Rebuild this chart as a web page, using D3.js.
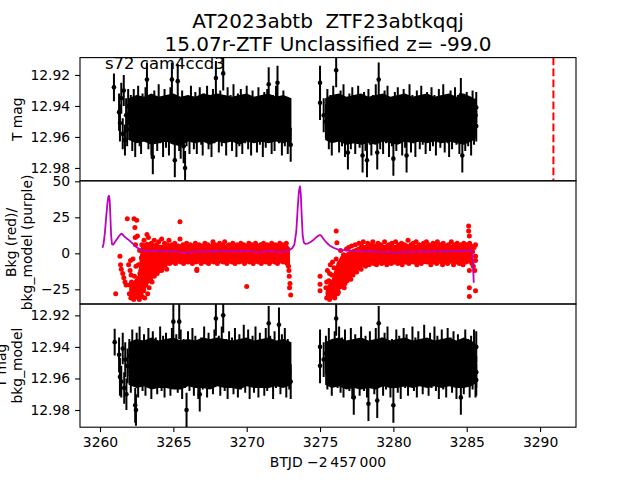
<!DOCTYPE html>
<html>
<head>
<meta charset="utf-8">
<script src="https://cdn.jsdelivr.net/npm/d3@7"></script>
<style>
  body { margin: 0; background: #fff; }
  text { font-family: "DejaVu Sans", sans-serif; }
</style>
</head>
<body>
<svg id="chart" width="640" height="480"></svg>
<script>
// ---- data ----
var titleLines = ["AT2023abtb  ZTF23abtkqqj", "15.07r-ZTF Unclassified z= -99.0"];
var sectorText = "s72 cam4ccd3";
var xTicks = [3260, 3265, 3270, 3275, 3280, 3285, 3290];
var magTicks = [12.92, 12.94, 12.96, 12.98];
var bkgTicks = [-25, 0, 25, 50];
var markerTime = 3290.91;
var magErr = 0.011;

// 0.1 d sampled photometry, orbit 1 and orbit 2
var tA = [
3262.0,3262.1,3262.2,3262.3,3262.4,3262.5,3262.6,3262.7,3262.8,3262.9,
3263.0,3263.1,3263.2,3263.3,3263.4,3263.5,3263.6,3263.7,3263.8,3263.9,
3264.0,3264.1,3264.2,3264.3,3264.4,3264.5,3264.6,3264.7,3264.8,3264.9,
3265.0,3265.1,3265.2,3265.3,3265.4,3265.5,3265.6,3265.7,3265.8,3265.9,
3266.0,3266.1,3266.2,3266.3,3266.4,3266.5,3266.6,3266.7,3266.8,3266.9,
3267.0,3267.1,3267.2,3267.3,3267.4,3267.5,3267.6,3267.7,3267.8,3267.9,
3268.0,3268.1,3268.2,3268.3,3268.4,3268.5,3268.6,3268.7,3268.8,3268.9,
3269.0,3269.1,3269.2,3269.3,3269.4,3269.5,3269.6,3269.7,3269.8,3269.9,
3270.0,3270.1,3270.2,3270.3,3270.4,3270.5,3270.6,3270.7,3270.8,3270.9,
3271.0,3271.1,3271.2,3271.3,3271.4,3271.5,3271.6,3271.7,3271.8,3271.9,
3272.0,3272.1,3272.2,3272.3,3272.4,3272.5,3272.6,3272.7,3272.8,3272.9,
3273.0];
var tB = [
3275.4,3275.5,3275.6,3275.7,3275.8,3275.9,3276.0,3276.1,3276.2,3276.3,
3276.4,3276.5,3276.6,3276.7,3276.8,3276.9,3277.0,3277.1,3277.2,3277.3,
3277.4,3277.5,3277.6,3277.7,3277.8,3277.9,3278.0,3278.1,3278.2,3278.3,
3278.4,3278.5,3278.6,3278.7,3278.8,3278.9,3279.0,3279.1,3279.2,3279.3,
3279.4,3279.5,3279.6,3279.7,3279.8,3279.9,3280.0,3280.1,3280.2,3280.3,
3280.4,3280.5,3280.6,3280.7,3280.8,3280.9,3281.0,3281.1,3281.2,3281.3,
3281.4,3281.5,3281.6,3281.7,3281.8,3281.9,3282.0,3282.1,3282.2,3282.3,
3282.4,3282.5,3282.6,3282.7,3282.8,3282.9,3283.0,3283.1,3283.2,3283.3,
3283.4,3283.5,3283.6,3283.7,3283.8,3283.9,3284.0,3284.1,3284.2,3284.3,
3284.4,3284.5,3284.6,3284.7,3284.8,3284.9,3285.0,3285.1,3285.2,3285.3,
3285.4,3285.5,3285.6];

// T mag (top panel)
var magA = [
12.951,12.944,12.958,12.940,12.962,12.947,12.938,12.955,12.960,12.943,
12.952,12.939,12.923,12.957,12.946,12.961,12.973,12.941,12.950,12.958,
12.937,12.953,12.945,12.962,12.940,12.956,12.948,12.961,12.939,12.923,
12.952,12.975,12.944,12.924,12.958,12.963,12.941,12.966,12.980,12.955,
12.945,12.960,12.938,12.951,12.957,12.942,12.960,12.947,12.939,12.954,
12.961,12.943,12.950,12.938,12.957,12.946,12.962,12.940,12.953,12.922,
12.949,12.959,12.941,12.955,12.919,12.947,12.961,12.939,12.952,12.944,
12.958,12.937,12.950,12.962,12.943,12.955,12.940,12.960,12.946,12.953,
12.938,12.957,12.948,12.961,12.941,12.952,12.945,12.959,12.939,12.954,
12.947,12.962,12.942,12.956,12.940,12.926,12.951,12.960,12.944,12.958,
12.938,12.925,12.953,12.946,12.961,12.941,12.955,12.948,12.960,12.955,
12.965];
var magB = [
12.950,12.940,12.957,12.944,12.961,12.938,12.952,12.917,12.946,12.959,
12.941,12.955,12.937,12.962,12.948,12.970,12.943,12.957,12.939,12.953,
12.960,12.945,12.938,12.956,12.949,12.972,12.942,12.958,12.975,12.940,
12.954,12.961,12.944,12.951,12.937,12.970,12.923,12.957,12.946,12.960,
12.941,12.953,12.938,12.962,12.947,12.955,12.974,12.942,12.958,12.939,
12.952,12.945,12.961,12.940,12.956,12.972,12.948,12.937,12.959,12.944,
12.953,12.962,12.941,12.950,12.957,12.938,12.954,12.946,12.960,12.942,
12.951,12.958,12.939,12.955,12.944,12.961,12.947,12.940,12.956,12.950,
12.937,12.959,12.945,12.953,12.962,12.941,12.957,12.948,12.939,12.954,
12.944,12.960,12.933,12.972,12.950,12.958,12.942,12.955,12.947,12.961,
12.941,12.954,12.946];
// sparse points [time, mag, err]
var magSparse = [
[3260.95,12.928,0.009],[3261.30,12.944,0.012],[3261.36,12.951,0.012],[3261.45,12.935,0.010],
[3261.55,12.958,0.010],[3261.62,12.930,0.010],[3261.70,12.962,0.010],[3261.78,12.946,0.011],
[3261.85,12.955,0.011],[3261.92,12.940,0.011],
[3275.00,12.925,0.011],[3275.00,12.938,0.011],[3275.25,12.946,0.011],
[3285.65,12.941,0.010],[3285.65,12.953,0.010]];
// solid core of the densely packed points [time, top mag, bottom mag]
var magCoreA = [
[3261.95,12.935,12.962],[3262.5,12.933,12.964],[3263.0,12.934,12.963],[3263.5,12.932,12.965],
[3264.0,12.934,12.964],[3264.5,12.933,12.963],[3265.0,12.932,12.965],[3265.5,12.934,12.966],
[3266.0,12.933,12.963],[3266.5,12.934,12.964],[3267.0,12.932,12.963],[3267.5,12.933,12.965],
[3268.0,12.932,12.963],[3268.5,12.933,12.964],[3269.0,12.934,12.963],[3269.5,12.933,12.965],
[3270.0,12.932,12.963],[3270.5,12.934,12.964],[3271.0,12.933,12.963],[3271.5,12.932,12.964],
[3272.0,12.934,12.963],[3272.5,12.933,12.964],[3273.05,12.935,12.962]];
var magCoreB = [
[3275.35,12.935,12.962],[3275.8,12.933,12.964],[3276.3,12.932,12.963],[3276.8,12.934,12.965],
[3277.3,12.933,12.964],[3277.8,12.932,12.965],[3278.3,12.934,12.964],[3278.8,12.933,12.965],
[3279.3,12.932,12.963],[3279.8,12.934,12.964],[3280.3,12.933,12.965],[3280.8,12.932,12.963],
[3281.3,12.934,12.964],[3281.8,12.933,12.963],[3282.3,12.932,12.964],[3282.8,12.934,12.963],
[3283.3,12.933,12.964],[3283.8,12.932,12.963],[3284.3,12.934,12.964],[3284.8,12.932,12.965],
[3285.3,12.934,12.963],[3285.62,12.936,12.961]];

// T mag - bkg_model (bottom panel)
var magCorrA = [
12.946,12.958,12.940,12.953,12.977,12.942,12.961,12.938,12.950,12.957,
12.943,12.960,12.947,12.939,12.955,12.962,12.941,12.952,12.945,12.959,
12.950,12.938,12.957,12.944,12.961,12.942,12.954,12.947,12.960,12.939,
12.924,12.951,12.943,12.958,12.924,12.940,12.962,12.946,12.955,12.980,
12.941,12.957,12.948,12.939,12.960,12.944,12.953,12.962,12.970,12.945,
12.956,12.938,12.951,12.961,12.942,12.954,12.947,12.959,12.940,12.922,
12.952,12.944,12.960,12.938,12.920,12.957,12.946,12.962,12.941,12.953,
12.945,12.959,12.939,12.951,12.961,12.943,12.956,12.948,12.937,12.958,
12.947,12.940,12.962,12.952,12.944,12.958,12.938,12.955,12.961,12.942,
12.953,12.946,12.960,12.939,12.957,12.925,12.944,12.950,12.962,12.941,
12.955,12.948,12.926,12.959,12.943,12.952,12.939,12.961,12.946,12.956,
12.962];
var magCorrB = [
12.944,12.956,12.939,12.952,12.960,12.947,12.941,12.922,12.955,12.938,
12.958,12.945,12.961,12.940,12.953,12.947,12.957,12.939,12.962,12.972,
12.943,12.955,12.948,12.960,12.938,12.951,12.957,12.944,12.961,12.976,
12.941,12.954,12.947,12.959,12.939,12.974,12.925,12.952,12.945,12.960,
12.942,12.956,12.938,12.953,12.961,12.946,12.977,12.950,12.940,12.958,
12.944,12.962,12.949,12.939,12.955,12.943,12.960,12.947,12.953,12.938,
12.957,12.945,12.961,12.941,12.952,12.948,12.959,12.937,12.954,12.946,
12.960,12.942,12.955,12.949,12.938,12.957,12.944,12.962,12.951,12.940,
12.956,12.947,12.961,12.939,12.953,12.945,12.958,12.941,12.950,12.962,
12.943,12.955,12.972,12.948,12.959,12.940,12.953,12.946,12.961,12.944,
12.956,12.940,12.961];
var magCorrSparse = [
[3261.00,12.937,0.0085],[3261.30,12.945,0.011],[3261.36,12.959,0.012],[3261.45,12.962,0.010],
[3261.55,12.941,0.010],[3261.65,12.966,0.010],[3261.72,12.948,0.011],[3261.80,12.970,0.010],
[3261.88,12.952,0.011],[3262.45,12.980,0.010],
[3275.00,12.940,0.011],[3275.00,12.952,0.011],[3275.25,12.948,0.011],
[3285.65,12.940,0.010],[3285.65,12.956,0.010],[3285.65,12.961,0.010]];
var magCorrCoreA = [
[3261.95,12.937,12.964],[3262.5,12.935,12.966],[3263.0,12.936,12.965],[3263.5,12.934,12.967],
[3264.0,12.936,12.966],[3264.5,12.935,12.966],[3265.0,12.934,12.967],[3265.5,12.936,12.967],
[3266.0,12.935,12.965],[3266.5,12.936,12.966],[3267.0,12.934,12.966],[3267.5,12.935,12.967],
[3268.0,12.934,12.965],[3268.5,12.935,12.966],[3269.0,12.936,12.966],[3269.5,12.935,12.967],
[3270.0,12.934,12.965],[3270.5,12.936,12.966],[3271.0,12.935,12.966],[3271.5,12.934,12.966],
[3272.0,12.936,12.965],[3272.5,12.935,12.966],[3273.05,12.937,12.964]];
var magCorrCoreB = [
[3275.35,12.937,12.964],[3275.8,12.935,12.966],[3276.3,12.934,12.965],[3276.8,12.936,12.967],
[3277.3,12.935,12.966],[3277.8,12.934,12.967],[3278.3,12.936,12.966],[3278.8,12.935,12.967],
[3279.3,12.934,12.965],[3279.8,12.936,12.966],[3280.3,12.935,12.966],[3280.8,12.934,12.965],
[3281.3,12.936,12.966],[3281.8,12.935,12.965],[3282.3,12.934,12.966],[3282.8,12.936,12.965],
[3283.3,12.935,12.966],[3283.8,12.934,12.965],[3284.3,12.936,12.966],[3284.8,12.934,12.966],
[3285.3,12.936,12.965],[3285.62,12.938,12.963]];

// background flux, 0.05 d sampling
var tBkgA = [
3262.00,3262.05,3262.10,3262.15,3262.20,3262.25,3262.30,3262.35,3262.40,3262.45,
3262.50,3262.55,3262.60,3262.65,3262.70,3262.75,3262.80,3262.85,3262.90,3262.95,
3263.00,3263.05,3263.10,3263.15,3263.20,3263.25,3263.30,3263.35,3263.40,3263.45,
3263.50,3263.55,3263.60,3263.65,3263.70,3263.75,3263.80,3263.85,3263.90,3263.95,
3264.00,3264.05,3264.10,3264.15,3264.20,3264.25,3264.30,3264.35,3264.40,3264.45,
3264.50,3264.55,3264.60,3264.65,3264.70,3264.75,3264.80,3264.85,3264.90,3264.95,
3265.00,3265.05,3265.10,3265.15,3265.20,3265.25,3265.30,3265.35,3265.40,3265.45,
3265.50,3265.55,3265.60,3265.65,3265.70,3265.75,3265.80,3265.85,3265.90,3265.95,
3266.00,3266.05,3266.10,3266.15,3266.20,3266.25,3266.30,3266.35,3266.40,3266.45,
3266.50,3266.55,3266.60,3266.65,3266.70,3266.75,3266.80,3266.85,3266.90,3266.95,
3267.00,3267.05,3267.10,3267.15,3267.20,3267.25,3267.30,3267.35,3267.40,3267.45,
3267.50,3267.55,3267.60,3267.65,3267.70,3267.75,3267.80,3267.85,3267.90,3267.95,
3268.00,3268.05,3268.10,3268.15,3268.20,3268.25,3268.30,3268.35,3268.40,3268.45,
3268.50,3268.55,3268.60,3268.65,3268.70,3268.75,3268.80,3268.85,3268.90,3268.95,
3269.00,3269.05,3269.10,3269.15,3269.20,3269.25,3269.30,3269.35,3269.40,3269.45,
3269.50,3269.55,3269.60,3269.65,3269.70,3269.75,3269.80,3269.85,3269.90,3269.95,
3270.00,3270.05,3270.10,3270.15,3270.20,3270.25,3270.30,3270.35,3270.40,3270.45,
3270.50,3270.55,3270.60,3270.65,3270.70,3270.75,3270.80,3270.85,3270.90,3270.95,
3271.00,3271.05,3271.10,3271.15,3271.20,3271.25,3271.30,3271.35,3271.40,3271.45,
3271.50,3271.55,3271.60,3271.65,3271.70,3271.75,3271.80,3271.85,3271.90,3271.95,
3272.00,3272.05,3272.10,3272.15,3272.20,3272.25,3272.30,3272.35,3272.40,3272.45,
3272.50,3272.55,3272.60,3272.65,3272.70,3272.75,3272.80,3272.85,3272.90,3272.95,
3273.00];
var bkgA = [
-28,-12,-31,-20,-26,-4,-32,-16,-29,-9,
-24,12,-30,-18,2,-27,-12,6,-21,-6,
9,-17,-2,-14,5,-10,11,-19,0,-8,
7,-15,3,-11,9,-5,-13,6,-2,-9,
8,-12,2,-6,10,-10,4,-3,7,-8,
1,-11,6,-4,9,-7,3,-2,6,-6,
2,-3,7,-7,4,0,-5,5,-1,22,
-6,3,-3,6,-7,1,5,-4,7,-2,
-6,3,-1,6,-5,2,-7,5,0,-3,
7,-6,-11,4,-2,6,-5,1,-7,5,
-1,3,-4,7,-6,2,-2,6,-7,4,
0,-5,5,-3,8,-6,1,6,-4,3,
-7,5,-1,7,-5,2,-3,6,-6,0,
8,-4,3,-7,5,-2,6,-5,1,4,
-6,7,-3,2,-7,5,-1,6,-4,3,
-6,0,7,-5,2,-2,6,-7,4,-3,
-23,5,-1,7,-6,2,-4,6,0,-7,
4,-2,7,-5,1,5,-6,3,-3,6,
-7,2,-1,7,-4,4,-6,0,6,-3,
3,-7,5,-2,7,-5,1,4,-6,6,
-1,3,-7,5,-3,7,-5,2,-2,6,
-6,0,4,-4,7,-7,3,-9,-16,-21,
-29];
var tBkgB = [
3275.40,3275.45,3275.50,3275.55,3275.60,3275.65,3275.70,3275.75,3275.80,3275.85,
3275.90,3275.95,3276.00,3276.05,3276.10,3276.15,3276.20,3276.25,3276.30,3276.35,
3276.40,3276.45,3276.50,3276.55,3276.60,3276.65,3276.70,3276.75,3276.80,3276.85,
3276.90,3276.95,3277.00,3277.05,3277.10,3277.15,3277.20,3277.25,3277.30,3277.35,
3277.40,3277.45,3277.50,3277.55,3277.60,3277.65,3277.70,3277.75,3277.80,3277.85,
3277.90,3277.95,3278.00,3278.05,3278.10,3278.15,3278.20,3278.25,3278.30,3278.35,
3278.40,3278.45,3278.50,3278.55,3278.60,3278.65,3278.70,3278.75,3278.80,3278.85,
3278.90,3278.95,3279.00,3279.05,3279.10,3279.15,3279.20,3279.25,3279.30,3279.35,
3279.40,3279.45,3279.50,3279.55,3279.60,3279.65,3279.70,3279.75,3279.80,3279.85,
3279.90,3279.95,3280.00,3280.05,3280.10,3280.15,3280.20,3280.25,3280.30,3280.35,
3280.40,3280.45,3280.50,3280.55,3280.60,3280.65,3280.70,3280.75,3280.80,3280.85,
3280.90,3280.95,3281.00,3281.05,3281.10,3281.15,3281.20,3281.25,3281.30,3281.35,
3281.40,3281.45,3281.50,3281.55,3281.60,3281.65,3281.70,3281.75,3281.80,3281.85,
3281.90,3281.95,3282.00,3282.05,3282.10,3282.15,3282.20,3282.25,3282.30,3282.35,
3282.40,3282.45,3282.50,3282.55,3282.60,3282.65,3282.70,3282.75,3282.80,3282.85,
3282.90,3282.95,3283.00,3283.05,3283.10,3283.15,3283.20,3283.25,3283.30,3283.35,
3283.40,3283.45,3283.50,3283.55,3283.60,3283.65,3283.70,3283.75,3283.80,3283.85,
3283.90,3283.95,3284.00,3284.05,3284.10,3284.15,3284.20,3284.25,3284.30,3284.35,
3284.40,3284.45,3284.50,3284.55,3284.60,3284.65,3284.70,3284.75,3284.80,3284.85,
3284.90,3284.95,3285.00,3285.05,3285.10,3285.15,3285.20,3285.25,3285.30,3285.35,
3285.40,3285.45,3285.50,3285.55,3285.60];
var bkgB = [
-24,-31,-12,-28,-19,-32,-8,-26,-15,-30,
-22,-10,-29,-17,-4,-25,-13,-27,-7,-20,
2,-23,-11,-18,-1,-24,-6,-14,3,-19,
-9,4,-16,-3,-12,5,-7,-15,1,-10,
6,-4,-13,2,-8,7,-6,-1,-11,5,
-3,8,-7,0,-9,4,-5,7,-2,-8,
3,-6,6,-1,8,-7,2,-4,5,-8,
1,7,-5,3,-2,6,-7,4,0,-6,
8,-3,2,-8,5,-1,6,-5,3,-7,
7,-2,4,-6,0,8,-4,2,-7,6,
-1,3,-5,7,-8,4,-2,6,-6,1,
5,-4,9,-7,2,-3,6,-5,0,7,
-6,3,-2,8,-8,4,-1,6,-4,2,
-7,5,0,7,-5,3,-3,8,-6,1,
6,-4,4,-8,2,-2,7,-6,3,-1,
5,-7,8,-3,1,-5,6,-2,4,-8,
7,-4,2,-6,5,0,-7,6,-3,3,
-5,8,-1,4,-8,6,-2,2,-6,7,
-3,5,-7,1,6,-4,3,-8,7,-2,
4,-6,6,-1,2,-5,7,-3,5,-7,
1,-9,4,-12,-2];
// isolated background points [time, value]
var bkgSparse = [
[3261.07,-28],[3261.36,-2],[3261.40,-8],[3261.45,-11],[3261.55,-14],[3261.62,-17],
[3261.70,-20],[3261.78,-22],[3261.86,24],[3261.95,-8],[3262.02,-22],[3262.08,-5],
[3262.12,-15],[3262.18,-25],[3262.32,24],[3262.38,18],[3262.40,11],[3262.42,6],
[3262.50,23],[3262.55,-22],[3262.62,-8],[3262.68,-32],[3262.72,-14],[3262.78,-25],
[3262.82,-3],[3262.88,-30],[3262.92,-11],[3262.98,-26],[3263.05,-31],[3263.12,-22],
[3263.20,13],[3263.25,-28],[3263.35,-24],[3263.45,-18],[3263.55,-20],[3263.70,-16],
[3263.90,-14],[3264.20,-12],[3265.45,10],[3266.60,-12],[3272.88,-12],[3272.92,-24],
[3275.00,-16],[3275.00,-21.5],[3275.00,-26],[3276.10,15.5],[3276.15,7.4],
[3275.45,-20],[3275.55,-27],[3275.65,-14],[3275.75,-24],[3275.85,-6],[3276.00,-31],
[3276.20,-28],[3276.30,-10],[3276.50,-16],[3276.70,-21],[3276.80,-9],[3277.10,-18],
[3277.30,-2],[3277.55,-9],
[3285.13,19],[3285.13,15.5],[3285.18,12],[3285.60,6],[3285.60,-5],[3285.18,-12],
[3285.18,-24],[3285.60,-26],[3285.18,-30]];
// solid core of the background points [time, low, high]
var bkgCoreA = [
[3262.00,-31,-21],[3262.30,-32,-19],[3262.60,-32,-15],[3262.80,-31,6],[3263.20,-23,8],
[3263.60,-16,7],[3264.00,-12,6],[3264.60,-8,6],[3265.00,-7,6],[3272.80,-7,6],[3272.95,-9,3]];
var bkgCoreB = [
[3275.40,-31,-24],[3275.80,-31,-18],[3276.10,-29,-8],[3276.40,-25,-2],[3277.05,-17,2],
[3277.70,-11,5],[3278.10,-8,6],[3285.35,-7,6],[3285.45,-8,3]];

// background model (purple curve)
var tModel = [
3260.17,3260.25,3260.33,3260.42,3260.50,3260.56,3260.61,3260.66,3260.71,3260.76,
3260.82,3260.90,3261.00,3261.10,3261.20,3261.30,3261.40,3261.47,3261.55,3261.65,
3261.80,3261.95,3262.10,3262.25,3262.40,3262.55,3262.70,3262.85,3263.00,3263.30,
3263.60,3263.90,3264.20,3264.50,3264.80,3265.10,3265.40,3265.70,3266.00,3266.30,
3266.60,3266.90,3267.20,3267.50,3267.80,3268.10,3268.40,3268.70,3269.00,3269.30,
3269.60,3269.90,3270.20,3270.50,3270.80,3271.10,3271.40,3271.70,3272.00,3272.30,
3272.60,3272.90,3273.10,3273.25,3273.38,3273.48,3273.56,3273.63,3273.69,3273.75,
3273.82,3273.90,3274.00,3274.15,3274.30,3274.45,3274.60,3274.75,3274.90,3275.00,
3275.10,3275.20,3275.35,3275.50,3275.65,3275.80,3276.00,3276.20,3276.45,3276.80,
3277.20,3277.60,3278.00,3278.40,3278.80,3279.20,3279.60,3280.00,3280.40,3280.80,
3281.20,3281.60,3282.00,3282.40,3282.80,3283.20,3283.60,3284.00,3284.40,3284.80,
3285.10,3285.30,3285.38,3285.43,3285.48];
var bkgModel = [
3.9,7,14,25,34,39,40,37,25,12,
6.3,6,7.5,9,10.5,12,13.2,13.6,13,11.8,
10.5,9.3,8,6.5,5,3.8,2.9,2.3,2,1.7,
1.9,1.5,1.9,1.4,1.7,1.2,1.0,0.5,0.3,1.0,
1.3,1.0,1.5,1.2,1.6,1.3,1.7,1.4,1.5,1.2,
1.6,1.3,1.7,1.0,0.6,1.2,1.5,1.1,1.3,0.8,
1.4,2.2,3.5,6,15,32,43,46.5,41,26,
12,7.4,6.5,6.8,7.5,8.5,9.8,11.2,12.3,12.7,
12,10.5,8.5,6.8,5.5,4.5,3.5,2.8,2.3,2,
1.7,1.5,1.3,1.5,1.2,1.0,0.8,0.5,0.6,0.9,
0.8,1.2,1.4,1.1,1.4,1.2,1.6,1.3,1.7,1.5,
2.0,2.2,0.5,-8,-20.5];

// ---- layout ----
var svg = d3.select("#chart");
var left = 80, right = 576;
var panelTop = [57.6, 180.8, 304.0];
var panelH = 123.2;
var fontSize = 13.9;

var x = d3.scaleLinear().domain([3258.636, 3292.45]).range([left, right]);
var yMag = d3.scaleLinear().domain([12.9088, 12.9883]).range([panelTop[0], panelTop[0] + panelH]);
var yBkg = d3.scaleLinear().domain([50.35, -35.2]).range([panelTop[1], panelTop[1] + panelH]);
var yCorr = d3.scaleLinear().domain([12.9128, 12.9909]).range([panelTop[2], panelTop[2] + panelH]);

var defs = svg.append("defs");
panelTop.forEach(function(top, i) {
    defs.append("clipPath").attr("id", "clip" + i)
        .append("rect").attr("x", left).attr("y", top).attr("width", right - left).attr("height", panelH);
});

function zipPts(ts, vals, err) {
    var out = [];
    for (var i = 0; i < Math.min(ts.length, vals.length); i++) out.push([ts[i], vals[i], err]);
    return out;
}

// filled band standing in for thousands of overlapping points
function drawCore(g, core, y, colour) {
    var area = d3.area()
        .x(function(d){ return x(d[0]); })
        .y0(function(d){ return y(d[1]); })
        .y1(function(d){ return y(d[2]); });
    g.append("path").datum(core).attr("d", area).attr("fill", colour);
}

function drawErrorbars(g, pts, y) {
    g.append("g").selectAll("line")
        .data(pts)
        .enter()
        .append("line")
        .attr("x1", function(d){ return x(d[0]); })
        .attr("x2", function(d){ return x(d[0]); })
        .attr("y1", function(d){ return y(d[1] - d[2]); })
        .attr("y2", function(d){ return y(d[1] + d[2]); })
        .attr("stroke", "#000")
        .attr("stroke-width", 2);
    g.append("g").selectAll("circle")
        .data(pts)
        .enter()
        .append("circle")
        .attr("cx", function(d){ return x(d[0]); })
        .attr("cy", function(d){ return y(d[1]); })
        .attr("r", 2.3)
        .attr("fill", "#000");
}

function styleAxis(g) {
    g.select(".domain").remove();
    g.selectAll(".tick line").attr("stroke", "#000").attr("stroke-width", 1.1);
    g.selectAll(".tick text").attr("fill", "#000")
        .attr("font-size", fontSize + "px")
        .attr("font-family", "DejaVu Sans, sans-serif");
}

// panel 1: T mag
var g1 = svg.append("g").attr("clip-path", "url(#clip0)");
drawCore(g1, magCoreA, yMag, "#000");
drawCore(g1, magCoreB, yMag, "#000");
var top1 = zipPts(tA, magA, magErr).concat(zipPts(tB, magB, magErr)).concat(magSparse);
drawErrorbars(g1, top1, yMag);
svg.append("line")
    .attr("x1", x(markerTime)).attr("x2", x(markerTime))
    .attr("y1", panelTop[0]).attr("y2", panelTop[0] + panelH)
    .attr("stroke", "#ff0000").attr("stroke-width", 2)
    .attr("stroke-dasharray", "7.7,3.3");

// panel 2: background
var g2 = svg.append("g").attr("clip-path", "url(#clip1)");
drawCore(g2, bkgCoreA, yBkg, "#ff0000");
drawCore(g2, bkgCoreB, yBkg, "#ff0000");
var bkgPts = zipPts(tBkgA, bkgA, 0).concat(zipPts(tBkgB, bkgB, 0)).concat(bkgSparse);
g2.append("g").selectAll("circle")
    .data(bkgPts)
    .enter()
    .append("circle")
    .attr("cx", function(d){ return x(d[0]); })
    .attr("cy", function(d){ return yBkg(d[1]); })
    .attr("r", 2.5)
    .attr("fill", "#ff0000");
var modelLine = d3.line()
    .x(function(d){ return x(d[0]); })
    .y(function(d){ return yBkg(d[1]); });
g2.append("path")
    .datum(zipPts(tModel, bkgModel, 0))
    .attr("d", modelLine)
    .attr("fill", "none")
    .attr("stroke", "#bf00bf")
    .attr("stroke-width", 1.8)
    .attr("stroke-linejoin", "round");

// panel 3: T mag - bkg_model
var g3 = svg.append("g").attr("clip-path", "url(#clip2)");
drawCore(g3, magCorrCoreA, yCorr, "#000");
drawCore(g3, magCorrCoreB, yCorr, "#000");
var bottom3 = zipPts(tA, magCorrA, magErr).concat(zipPts(tB, magCorrB, magErr)).concat(magCorrSparse);
drawErrorbars(g3, bottom3, yCorr);

// axes
var yScales = [yMag, yBkg, yCorr];
var yTickSets = [magTicks, bkgTicks, magTicks];
var yFormats = [d3.format(".2f"), d3.format("d"), d3.format(".2f")];
yScales.forEach(function(ys, i) {
    var ax = svg.append("g").attr("transform", "translate(" + left + ",0)")
        .call(d3.axisLeft(ys).tickValues(yTickSets[i]).tickFormat(yFormats[i]).tickSize(4.9).tickPadding(4.9));
    styleAxis(ax);
    svg.append("rect")
        .attr("x", left).attr("y", panelTop[i])
        .attr("width", right - left).attr("height", panelH)
        .attr("fill", "none").attr("stroke", "#000").attr("stroke-width", 1.1);
});
var xAx = svg.append("g").attr("transform", "translate(0," + (panelTop[2] + panelH) + ")")
    .call(d3.axisBottom(x).tickValues(xTicks).tickFormat(d3.format("d")).tickSize(4.9).tickPadding(4.9));
styleAxis(xAx);

// labels
svg.append("text")
    .attr("x", (left + right) / 2).attr("y", 467)
    .attr("text-anchor", "middle").attr("font-size", fontSize + "px")
    .text("BTJD \u22122\u2009457\u2009000");

function yLabel(lines, xs, yc) {
    lines.forEach(function(s, i) {
        svg.append("text")
            .attr("transform", "translate(" + xs[i] + "," + yc + ") rotate(-90)")
            .attr("text-anchor", "middle")
            .attr("dy", "0.35em")
            .attr("font-size", fontSize + "px")
            .text(s);
    });
}
yLabel(["T mag"], [17], panelTop[0] + panelH / 2);
yLabel(["Bkg (red)/", "bkg_model (purple)"], [11, 27], panelTop[1] + panelH / 2);
yLabel(["T mag", "bkg_model"], [1, 17.5], panelTop[2] + panelH / 2);

svg.append("text")
    .attr("x", 105).attr("y", 69.3)
    .attr("font-size", "16.5px")
    .text(sectorText);

titleLines.forEach(function(s, i) {
    svg.append("text")
        .attr("x", (left + right) / 2).attr("y", 27.5 + i * 23)
        .attr("text-anchor", "middle")
        .attr("font-size", "20px")
        .style("white-space", "pre")
        .text(s);
});
</script>
</body>
</html>
